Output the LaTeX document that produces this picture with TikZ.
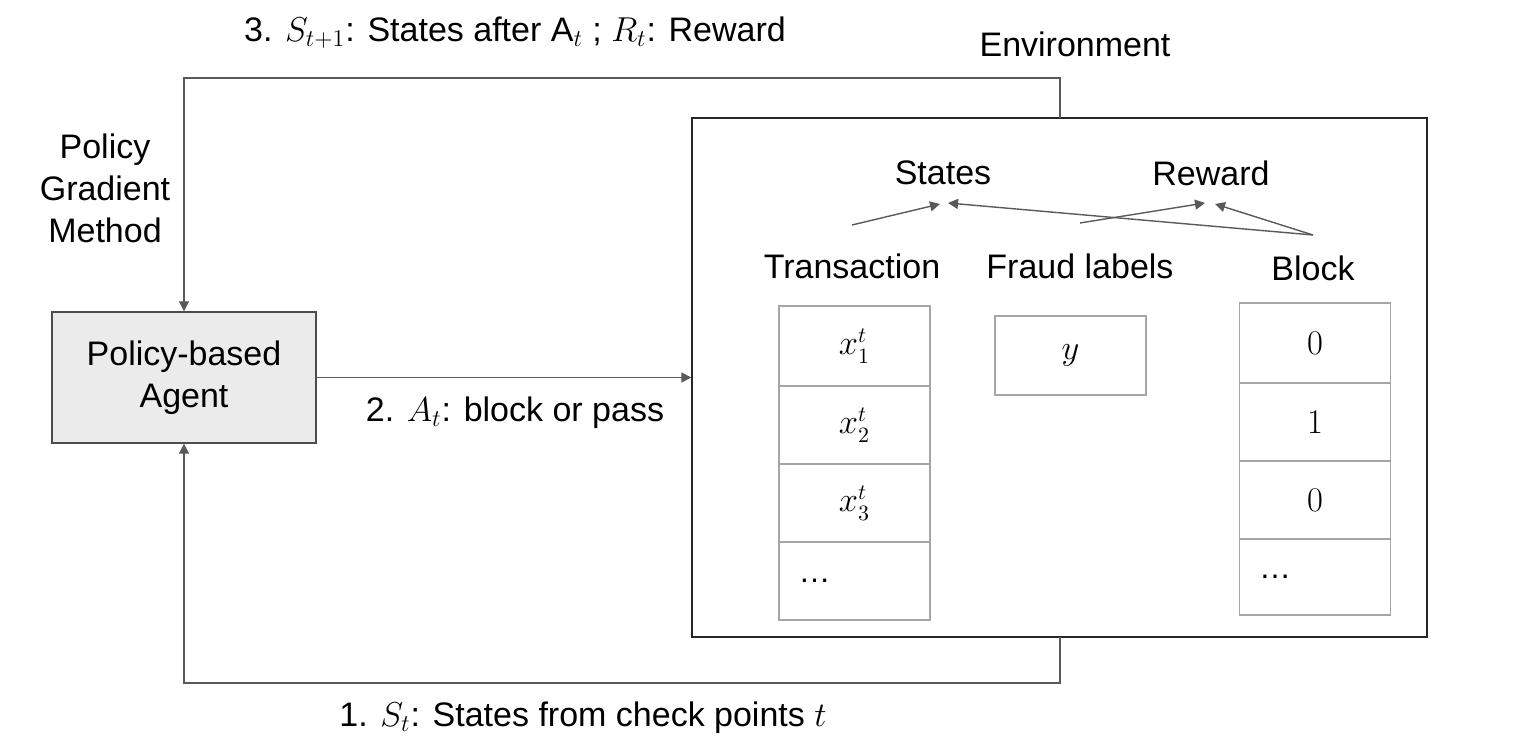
\documentclass[tikz,border=0pt]{standalone}
\usepackage{fontspec}
\setmainfont{Liberation Sans}
\usetikzlibrary{arrows.meta}
\begin{document}
\begin{tikzpicture}[x=0.5pt,y=-0.5pt,
  txt/.style={font=\fontsize{17}{20}\selectfont, inner sep=0pt},
  ln/.style={draw=black!65, line width=0.7pt},
  arr/.style={ln,-{Triangle[length=5pt,width=5pt]}},
  cell/.style={draw=black!35, line width=0.7pt, minimum width=75.5pt, inner sep=0pt, font=\fontsize{16}{18}\selectfont}]
\useasboundingbox (0,0) rectangle (1538,743);
\node[draw=black!70, fill=black!8, line width=0.7pt, minimum width=132pt, minimum height=65.5pt, align=center, txt] (agent) at (184,377.5) {Policy-based\\[1pt]Agent};
\node[draw=black!85, line width=0.7pt, minimum width=367.5pt, minimum height=259.5pt, inner sep=0pt] (env) at (1059.5,377.5) {};
\coordinate (et) at (1060,118); \coordinate (eb) at (1060,637);
\coordinate (c1) at (1060,78); \coordinate (c2) at (184,78);
\coordinate (c3) at (1060,683); \coordinate (c4) at (184,683);
\draw[arr] (et) -- (c1) -- (c2) -- (agent.north);
\draw[arr] (eb) -- (c3) -- (c4) -- (agent.south);
\draw[arr] (agent.east) -- (env.west|-agent.east);
\node[txt] (l3) at (515,33) {3. $S_{t+1}$: States after $\mathrm{A}_t$ ; $R_t$: Reward};
\node[txt] (envl) at (1075,44) {Environment};
\node[txt, align=center] (pg) at (105,188) {Policy\\[1pt]Gradient\\[1pt]Method};
\node[txt] (l2) at (515,413) {2. $A_t$: block or pass};
\node[txt] (l1) at (583,718) {1. $S_t$: States from check points $t$};
\node[txt] (st) at (943,173) {States};
\node[txt] (rw) at (1211,173) {Reward};
\node[txt] (tr) at (852,266) {Transaction};
\node[txt] (fl) at (1080,266) {Fraud labels};
\node[txt] (bl) at (1313,268) {Block};
\coordinate (trs) at (852,225); \coordinate (fls) at (1080,223); \coordinate (bls) at (1313,235);
\coordinate (stA) at (940,204); \coordinate (stB) at (948,203);
\coordinate (rwA) at (1205,203); \coordinate (rwB) at (1215,204);
\draw[arr] (trs) -- (stA);
\draw[arr] (bls) -- (stB);
\draw[arr] (fls) -- (rwA);
\draw[arr] (bls) -- (rwB);
\node[cell, minimum height=40pt] (t1) at (854.5,346) {$x_1^t$};
\node[cell, minimum height=39pt] (t2) at (854.5,425) {$x_2^t$};
\node[cell, minimum height=39pt] (t3) at (854.5,503) {$x_3^t$};
\node[cell, minimum height=39pt] (t4) at (854.5,581) {\hspace*{-40pt}\dots};
\node[cell, minimum height=39.5pt] (y) at (1070.5,355.5) {$y$};
\node[cell, minimum height=40pt] (b1) at (1315,343) {$0$};
\node[cell, minimum height=39pt] (b2) at (1315,422) {$1$};
\node[cell, minimum height=39pt] (b3) at (1315,500) {$0$};
\node[cell, minimum height=38pt] (b4) at (1315,577) {\hspace*{-40pt}\dots};
\end{tikzpicture}
\end{document}
